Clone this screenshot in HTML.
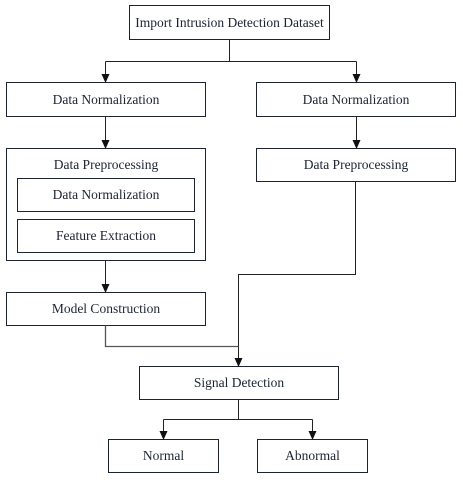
<!DOCTYPE html>
<html><head><meta charset="utf-8"><style>
html,body{margin:0;padding:0;background:#fff;width:463px;height:480px;overflow:hidden}
svg text{font-family:"Liberation Serif","Times New Roman",serif;font-size:13.5px;fill:#1c2333}
</style></head><body>
<svg width="463" height="480" viewBox="0 0 463 480" xmlns="http://www.w3.org/2000/svg">
<defs><marker id="a" markerWidth="8" markerHeight="9" refX="4" refY="8" orient="0" markerUnits="userSpaceOnUse"><path d="M0,0 L8,0 L4,9 Z" fill="#111"/></marker></defs>
<g fill="none" stroke="#1c2333" stroke-width="1">
<rect x="129.5" y="5.5" width="200" height="34"/>
<rect x="6.5" y="82.5" width="199" height="34"/>
<rect x="256.5" y="82.5" width="199" height="34"/>
<rect x="6.5" y="148.5" width="199" height="112"/>
<rect x="17.5" y="178.5" width="177" height="33"/>
<rect x="17.5" y="219.5" width="177" height="33"/>
<rect x="256.5" y="148.5" width="199" height="33"/>
<rect x="6.5" y="292.5" width="199" height="33"/>
<rect x="139.5" y="366.5" width="199" height="33"/>
<rect x="108.5" y="439.5" width="110" height="33"/>
<rect x="257.5" y="439.5" width="110" height="33"/>
</g>
<g fill="none" stroke="#222" stroke-width="1">
<path d="M229.5 39.5V61.5M105.5 61.5H356.5"/>
<path d="M105.5 61.5V82" marker-end="url(#a)"/>
<path d="M356.5 61.5V82" marker-end="url(#a)"/>
<path d="M105.5 116.5V148" marker-end="url(#a)"/>
<path d="M356.5 116.5V148" marker-end="url(#a)"/>
<path d="M105.5 260.5V292" marker-end="url(#a)"/>
<path d="M355.5 181.5V274.5H238.5V366" marker-end="url(#a)"/>
<path d="M105.5 325.5V346.5H238.5" stroke="#555" stroke-width="1.3"/>
<path d="M238.5 399.5V419.5M163.5 419.5H312.5"/>
<path d="M163.5 419.5V439" marker-end="url(#a)"/>
<path d="M312.5 419.5V439" marker-end="url(#a)"/>
</g>
<g text-anchor="middle">
<text x="229.5" y="27">Import Intrusion Detection Dataset</text>
<text x="106" y="104">Data Normalization</text>
<text x="356" y="104">Data Normalization</text>
<text x="106" y="169">Data Preprocessing</text>
<text x="106" y="199">Data Normalization</text>
<text x="106" y="240">Feature Extraction</text>
<text x="356" y="169">Data Preprocessing</text>
<text x="106" y="313">Model Construction</text>
<text x="239" y="387">Signal Detection</text>
<text x="163.5" y="460">Normal</text>
<text x="312.5" y="460">Abnormal</text>
</g>
</svg>
</body></html>
